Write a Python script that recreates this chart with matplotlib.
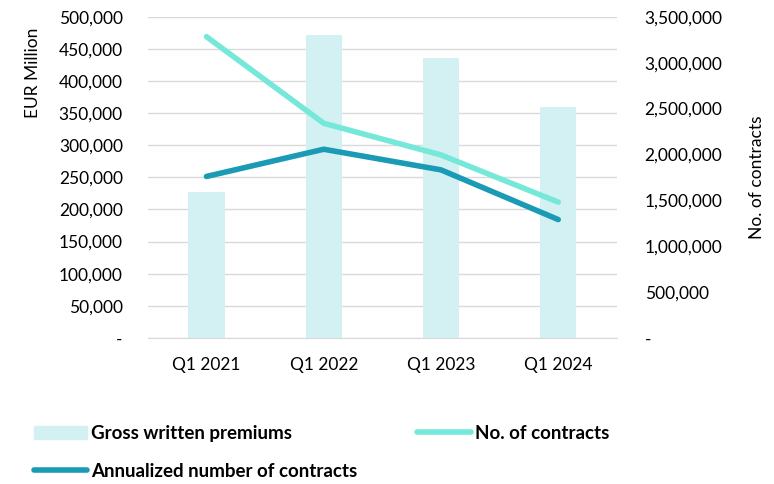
import matplotlib
matplotlib.use('Agg')
import matplotlib.pyplot as plt
from matplotlib.ticker import FuncFormatter
from matplotlib.patches import Patch
from matplotlib.lines import Line2D

plt.rcParams['font.family'] = ['Lato', 'DejaVu Sans']

quarters = ['Q1 2021', 'Q1 2022', 'Q1 2023', 'Q1 2024']
gross_premiums = [227000, 472000, 436000, 360000]
no_contracts = [3285000, 2340000, 1995000, 1480000]
annualized_contracts = [1760000, 2057000, 1832000, 1290000]

bar_color = '#d3f0f2'
light_line = '#76e8da'
dark_line = '#1a9bb5'


def fmt(v, pos):
    if v == 0:
        return '-'
    return f'{int(v):,}'


fig = plt.figure(figsize=(7.74, 4.84), dpi=100)
ax = fig.add_axes([0.191, 0.302, 0.606, 0.663])
x = range(len(quarters))
ax.bar(x, gross_premiums, width=0.31, color=bar_color, zorder=2)
ax.set_ylim(0, 500000)
ax.set_yticks(range(0, 500001, 50000))
ax.yaxis.set_major_formatter(FuncFormatter(fmt))
ax.set_xlim(-0.5, 3.5)
ax.set_xticks(list(x))
ax.set_xticklabels(quarters)
ax.grid(axis='y', color='#d9d9d9', linewidth=1, zorder=0)
ax.set_axisbelow(True)
for s in ['top', 'right', 'left']:
    ax.spines[s].set_visible(False)
ax.spines['bottom'].set_color('#d9d9d9')
ax.tick_params(axis='both', length=0, labelsize=12.5, colors='#000000')
ax.tick_params(axis='y', pad=18)
ax.tick_params(axis='x', pad=14)
ax.set_ylabel('EUR Million', fontsize=12.5)
ax.yaxis.set_label_coords(-0.228, 0.825)

ax2 = ax.twinx()
ax2.plot(x, no_contracts, color=light_line, linewidth=4, solid_capstyle='round', zorder=3)
ax2.plot(x, annualized_contracts, color=dark_line, linewidth=4, solid_capstyle='round', zorder=3)
ax2.set_ylim(0, 3500000)
ax2.set_yticks(range(0, 3500001, 500000))
ax2.yaxis.set_major_formatter(FuncFormatter(fmt))
for s in ax2.spines.values():
    s.set_visible(False)
ax2.tick_params(axis='y', length=0, labelsize=12.5, pad=20)
ax2.set_ylabel('No. of contracts', fontsize=12.5)
ax2.yaxis.set_label_coords(1.282, 0.5)

handles = [
    Patch(color=bar_color, label='Gross written premiums'),
    Line2D([], [], color=dark_line, linewidth=4, solid_capstyle='round', label='Annualized number of contracts'),
    Line2D([], [], color=light_line, linewidth=4, solid_capstyle='round', label='No. of contracts'),
]
leg = fig.legend(handles=handles, ncol=2, loc='upper left', bbox_to_anchor=(0.044, 0.122),
                 frameon=False, prop={'weight': 'bold', 'size': 13.5},
                 handlelength=2.85, handletextpad=0.2, columnspacing=3.2, labelspacing=1.1,
                 borderaxespad=0, borderpad=0)

fig.savefig('out.png', dpi=100)
